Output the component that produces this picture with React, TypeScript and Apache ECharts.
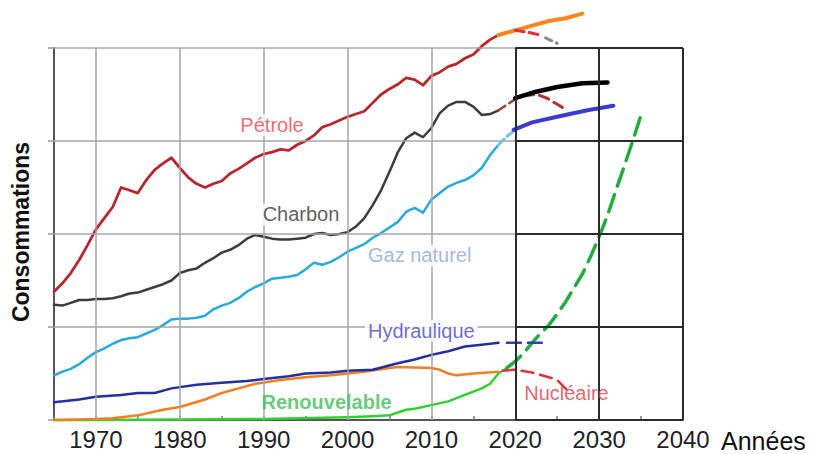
import React, { useEffect, useRef } from "react";
import * as echarts from "echarts";

type P = [number, number];

// ---------- data (years, relative consumption levels) ----------
const xTickLabels = [1970, 1980, 1990, 2000, 2010, 2020, 2030, 2040];
const yLevels = [1, 2, 3, 4];

const petroleHist: P[] = [
  [1965, 1.38], [1966, 1.47], [1967, 1.58], [1968, 1.72], [1969, 1.88], [1970, 2.05],
  [1971, 2.17], [1972, 2.29], [1973, 2.5], [1974, 2.47], [1975, 2.44], [1976, 2.58],
  [1977, 2.69], [1978, 2.76], [1979, 2.82], [1980, 2.71], [1981, 2.61], [1982, 2.54],
  [1983, 2.5], [1984, 2.54], [1985, 2.57], [1986, 2.65], [1987, 2.7], [1988, 2.76],
  [1989, 2.82], [1990, 2.86], [1991, 2.88], [1992, 2.91], [1993, 2.9], [1994, 2.96],
  [1995, 3.0], [1996, 3.06], [1997, 3.15], [1998, 3.18], [1999, 3.22], [2000, 3.26],
  [2001, 3.29], [2002, 3.32], [2003, 3.41], [2004, 3.5], [2005, 3.56], [2006, 3.61],
  [2007, 3.68], [2008, 3.66], [2009, 3.6], [2010, 3.7], [2011, 3.74], [2012, 3.8],
  [2013, 3.83], [2014, 3.89], [2015, 3.93], [2016, 4.02], [2017, 4.09], [2018, 4.14],
];
const petroleProj: P[] = [[2018, 4.14], [2020, 4.19], [2022, 4.24], [2024, 4.29], [2026, 4.32], [2028, 4.37]];
const petroleDeclineRed: P[] = [[2020, 4.19], [2021.5, 4.17], [2023, 4.14]];
const petroleDeclineGray: P[] = [[2023.6, 4.11], [2025, 4.05]];

const charbonHist: P[] = [
  [1965, 1.24], [1966, 1.23], [1967, 1.26], [1968, 1.29], [1969, 1.29], [1970, 1.3],
  [1971, 1.3], [1972, 1.31], [1973, 1.33], [1974, 1.36], [1975, 1.37], [1976, 1.4],
  [1977, 1.43], [1978, 1.46], [1979, 1.5], [1980, 1.58], [1981, 1.61], [1982, 1.63],
  [1983, 1.69], [1984, 1.74], [1985, 1.8], [1986, 1.83], [1987, 1.88], [1988, 1.95],
  [1989, 1.99], [1990, 1.97], [1991, 1.95], [1992, 1.94], [1993, 1.94], [1994, 1.95],
  [1995, 1.96], [1996, 2.0], [1997, 2.01], [1998, 1.99], [1999, 2.0], [2000, 2.02],
  [2001, 2.08], [2002, 2.17], [2003, 2.31], [2004, 2.47], [2005, 2.67], [2006, 2.88],
  [2007, 3.03], [2008, 3.09], [2009, 3.04], [2010, 3.14], [2011, 3.3], [2012, 3.38],
  [2013, 3.42], [2014, 3.42], [2015, 3.37], [2016, 3.28], [2017, 3.29], [2018, 3.33],
];
const charbonBridge: P[] = [[2018, 3.33], [2019, 3.39], [2020, 3.45]];
const charbonProj: P[] = [[2020, 3.46], [2022.5, 3.53], [2025, 3.58], [2028, 3.62], [2031, 3.63]];
const charbonDecline: P[] = [[2021, 3.49], [2022.6, 3.5], [2023.8, 3.46], [2026.2, 3.33]];

const gazHist: P[] = [
  [1965, 0.48], [1966, 0.52], [1967, 0.55], [1968, 0.6], [1969, 0.67], [1970, 0.73],
  [1971, 0.77], [1972, 0.82], [1973, 0.86], [1974, 0.88], [1975, 0.89], [1976, 0.93],
  [1977, 0.97], [1978, 1.02], [1979, 1.08], [1980, 1.09], [1981, 1.09], [1982, 1.1],
  [1983, 1.12], [1984, 1.19], [1985, 1.23], [1986, 1.26], [1987, 1.31], [1988, 1.38],
  [1989, 1.43], [1990, 1.47], [1991, 1.52], [1992, 1.53], [1993, 1.54], [1994, 1.56],
  [1995, 1.62], [1996, 1.69], [1997, 1.67], [1998, 1.7], [1999, 1.75], [2000, 1.81],
  [2001, 1.85], [2002, 1.89], [2003, 1.96], [2004, 2.01], [2005, 2.07], [2006, 2.13],
  [2007, 2.24], [2008, 2.28], [2009, 2.23], [2010, 2.37], [2011, 2.44], [2012, 2.51],
  [2013, 2.55], [2014, 2.58], [2015, 2.63], [2016, 2.71], [2017, 2.85], [2018, 2.96],
];
const gazBridge: P[] = [[2018, 2.96], [2019, 3.05], [2020, 3.12]];
const gazProj: P[] = [[2019.8, 3.12], [2022, 3.2], [2025, 3.26], [2028.6, 3.33], [2031.7, 3.38]];

const hydroHist: P[] = [
  [1965, 0.19], [1968, 0.22], [1970, 0.25], [1973, 0.27], [1975, 0.29], [1977, 0.29],
  [1979, 0.34], [1982, 0.38], [1985, 0.4], [1988, 0.42], [1990, 0.44], [1993, 0.47],
  [1995, 0.5], [1998, 0.51], [2000, 0.53], [2003, 0.54], [2006, 0.61], [2008, 0.65],
  [2010, 0.7], [2012, 0.74], [2014, 0.79], [2016, 0.81], [2018, 0.83],
];
const hydroProj: P[] = [[2019, 0.83], [2024, 0.83]];

const nucleaireHist: P[] = [
  [1965, 0.0], [1968, 0.005], [1970, 0.01], [1972, 0.02], [1975, 0.05], [1978, 0.11],
  [1980, 0.14], [1983, 0.22], [1985, 0.29], [1987, 0.34], [1989, 0.39], [1992, 0.43],
  [1995, 0.46], [1998, 0.48], [2000, 0.5], [2002, 0.52], [2005, 0.56], [2006, 0.57],
  [2010, 0.56], [2011, 0.54], [2012, 0.5], [2013, 0.48], [2015, 0.5], [2018, 0.52],
];
const nucleaireProj: P[] = [[2018.5, 0.53], [2020, 0.54], [2022, 0.51], [2024, 0.46], [2025, 0.43], [2026.2, 0.32]];

const renouvHist: P[] = [
  [1965, 0.0], [1970, 0.0], [1980, 0.005], [1990, 0.01], [2000, 0.03], [2003, 0.04],
  [2005, 0.05], [2007, 0.11], [2008, 0.12], [2010, 0.16], [2012, 0.2], [2014, 0.27],
  [2016, 0.34], [2017, 0.39], [2018, 0.5], [2019, 0.56],
];
const renouvProj: P[] = [
  [2019, 0.56], [2020, 0.63], [2021, 0.72], [2022, 0.83], [2023, 0.93], [2024, 1.02],
  [2025, 1.14], [2026, 1.27], [2027, 1.42], [2028, 1.57], [2029, 1.76], [2030, 1.97],
  [2031, 2.2], [2032, 2.47], [2033, 2.73], [2034, 3.0], [2035, 3.28],
];

// ---------- series labels (text, anchor in data coords) ----------
const labelNames = ["Pétrole", "Charbon", "Gaz naturel", "Hydraulique", "Renouvelable", "Nucléaire"];
const labelAnchors: P[] = [[1991, 3.17], [1994.45, 2.21], [2008.6, 1.77], [2008.8, 0.96], [1997.5, 0.19], [2026.1, 0.29]];
const labelColors = ["#e6444f", "#333333", "#8ba6d6", "#4747c4", "#3cbf55", "#e03a47"];
const labelBold = [false, false, false, false, true, false];
const labelBg = [true, true, true, true, false, false];

const FONT = "'Liberation Sans', Arial, Helvetica, sans-serif";

function lineSeries(data: P[], color: string, width: number, type: any = "solid", z = 3) {
  return {
    type: "line",
    data,
    showSymbol: false,
    symbol: "none",
    clip: false,
    smooth: false,
    z,
    lineStyle: { color, width, type, cap: "round", join: "round" },
    silent: true,
  };
}

export default function App() {
  const ref = useRef<HTMLDivElement>(null);

  useEffect(() => {
    if (!ref.current) return;
    const chart = echarts.init(ref.current, undefined, { renderer: "svg" });

    const grayLines: any[] = [];
    xTickLabels.filter((y) => y < 2020).forEach((yr) => {
      grayLines.push([{ coord: [yr, 0] }, { coord: [yr, 4] }]);
    });
    yLevels.forEach((lv) => {
      grayLines.push([{ coord: [1965, lv] }, { coord: [2020, lv] }]);
    });
    const blackLines: any[] = [];
    xTickLabels.filter((y) => y >= 2020).forEach((yr) => {
      blackLines.push([{ coord: [yr, 0] }, { coord: [yr, 4] }]);
    });
    yLevels.forEach((lv) => {
      blackLines.push([{ coord: [2020, lv] }, { coord: [2040, lv] }]);
    });
    blackLines.push([{ coord: [2020, 0] }, { coord: [2040, 0] }]);

    const gridSeries = (lines: any[], color: string, width: number, z: number) => ({
      type: "line",
      data: [[1965, 0]],
      showSymbol: false,
      symbol: "none",
      lineStyle: { width: 0, opacity: 0 },
      silent: true,
      z,
      markLine: {
        silent: true,
        symbol: ["none", "none"],
        label: { show: false },
        lineStyle: { color, width, type: "solid" },
        data: lines,
        animation: false,
      },
    });

    const labelData = labelNames.map((name, i) => ({
      value: [labelAnchors[i][0], labelAnchors[i][1]],
      name,
      label: {
        show: true,
        position: "inside",
        formatter: name,
        color: labelColors[i],
        fontSize: 20,
        fontFamily: FONT,
        fontWeight: labelBold[i] ? "bold" : "normal",
        backgroundColor: labelBg[i] ? "#ffffff" : "transparent",
        padding: labelBg[i] ? [1, 3] : 0,
      },
    }));

    chart.setOption({
      animation: false,
      backgroundColor: "#ffffff",
      textStyle: { fontFamily: FONT },
      grid: { left: 54, right: 142, top: 48, bottom: 34, containLabel: false },
      xAxis: {
        type: "value",
        min: 1965,
        max: 2040,
        interval: 5,
        axisLine: { show: true, lineStyle: { color: "#555", width: 2 } },
        axisTick: { show: true, inside: true, length: 4, lineStyle: { color: "#777", width: 1.5 } },
        splitLine: { show: false },
        axisLabel: {
          show: true,
          margin: 7,
          fontSize: 24,
          color: "#222",
          fontFamily: FONT,
          showMinLabel: true,
          showMaxLabel: true,
          formatter: (v: number) => (xTickLabels.includes(v) ? String(v) : ""),
        },
      },
      yAxis: {
        type: "value",
        min: 0,
        max: 4,
        interval: 1,
        axisLine: { show: true, lineStyle: { color: "#555", width: 2 } },
        axisTick: { show: true, length: 6, lineStyle: { color: "#999", width: 1.5 } },
        axisLabel: { show: false },
        splitLine: { show: false },
      },
      graphic: [
        {
          type: "text",
          x: 21,
          y: 232,
          rotation: Math.PI / 2,
          style: {
            text: "Consommations",
            fontSize: 23,
            fontWeight: "bold",
            fontFamily: FONT,
            fill: "#111",
            align: "center",
            verticalAlign: "middle",
          },
        },
        {
          type: "text",
          x: 721,
          y: 441,
          style: {
            text: "Années",
            fontSize: 25,
            fontFamily: FONT,
            fill: "#111",
            align: "left",
            verticalAlign: "middle",
          },
        },
      ],
      series: [
        gridSeries(grayLines, "#a6a6a6", 1.5, 1),
        gridSeries(blackLines, "#2b2b2b", 2, 2),
        lineSeries(renouvHist, "#2ed22e", 2.5),
        lineSeries(renouvProj, "#22ad3e", 3.5, [18, 9]),
        lineSeries(nucleaireHist, "#f47d20", 2.5),
        lineSeries(nucleaireProj, "#d93442", 2.5, [12, 7]),
        lineSeries(hydroHist, "#232f9c", 2.5),
        lineSeries(hydroProj, "#3a3ab8", 2.5, [14, 7]),
        lineSeries(gazHist, "#27a9e1", 2.5),
        lineSeries(gazBridge, "#6fc8ee", 3, [8, 4]),
        lineSeries(gazProj, "#3b3bd0", 4),
        lineSeries(charbonHist, "#3c3c3c", 2.5),
        lineSeries(charbonBridge, "#a8423a", 2.5, [8, 5]),
        lineSeries(charbonDecline, "#b5322f", 3, [10, 6]),
        lineSeries(charbonProj, "#000000", 4.5, "solid", 4),
        lineSeries(petroleHist, "#b8262e", 2.8),
        lineSeries(petroleProj, "#f9861d", 4),
        lineSeries(petroleDeclineRed, "#d9343f", 3, [9, 5], 5),
        lineSeries(petroleDeclineGray, "#8a8a8a", 3, [7, 5]),
        {
          type: "scatter",
          data: labelData,
          symbolSize: 1,
          itemStyle: { color: "rgba(255,255,255,0)" },
          clip: false,
          silent: true,
          z: 10,
        },
      ],
    });

    return () => chart.dispose();
  }, []);

  return (
    <div
      ref={ref}
      style={{ position: "fixed", left: 0, top: 0, width: 825, height: 454, background: "#fff" }}
    />
  );
}
